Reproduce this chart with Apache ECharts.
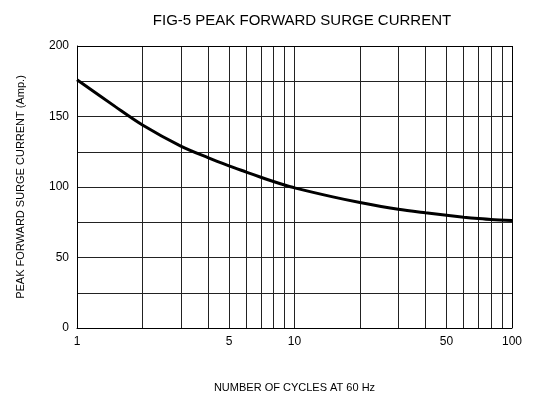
<!DOCTYPE html>
<html><head><meta charset="utf-8">
<script src="https://cdn.jsdelivr.net/npm/echarts@6/dist/echarts.min.js"></script>
<style>html,body{margin:0;padding:0;background:#fff}#c{width:537px;height:410px}</style>
</head><body><div id="c"></div>
<script>
const cycles = [1, 1.5, 2, 3, 4, 5, 6, 7, 8, 9, 10, 15, 20, 30, 40, 50, 60, 70, 80, 100];
const current = [176, 157, 144, 129, 120.8, 115, 110.6, 106.9, 103.9, 101.4, 99.4, 93, 89, 84.2, 81.7, 80, 78.6, 77.6, 76.9, 76.3];
const xGridValues = [1, 2, 3, 4, 5, 6, 7, 8, 9, 10, 20, 30, 40, 50, 60, 70, 80, 90, 100];
const xLabelValues = [1, 5, 10, 50, 100];
const yLabelValues = [0, 50, 100, 150, 200];

const font = 'Liberation Sans, Arial, sans-serif';
const chart = echarts.init(document.getElementById('c'));
chart.setOption({
  animation: false,
  title: {
    text: 'FIG-5 PEAK FORWARD SURGE CURRENT',
    left: 297, top: 8, textAlign: 'center',
    textStyle: {fontFamily: font, fontSize: 15, fontWeight: 'normal', color: '#000'}
  },
  grid: {left: 77, right: 25, top: 46, bottom: 82},
  xAxis: {
    type: 'log', logBase: 10, min: 1, max: 100,
    name: 'NUMBER OF CYCLES AT 60 Hz', nameLocation: 'middle', nameGap: 54,
    nameTextStyle: {fontFamily: font, fontSize: 11, color: '#000'},
    axisLine: {show: true, lineStyle: {color: '#000', width: 1}},
    axisTick: {show: false, customValues: xGridValues},
    axisLabel: {customValues: xLabelValues, fontFamily: font, fontSize: 12, color: '#000', margin: 8},
    splitLine: {show: true, lineStyle: {color: '#222', width: 1}}
  },
  yAxis: {
    type: 'value', min: 0, max: 200, interval: 25,
    name: 'PEAK FORWARD SURGE CURRENT (Amp.)', nameLocation: 'middle', nameGap: 51,
    nameTextStyle: {fontFamily: font, fontSize: 11, color: '#000'},
    axisLine: {show: true, lineStyle: {color: '#000', width: 1}},
    axisTick: {show: false},
    axisLabel: {fontFamily: font, fontSize: 12, color: '#000', margin: 8,
      formatter: v => (yLabelValues.indexOf(v) >= 0 ? String(v) : '')},
    splitLine: {show: true, lineStyle: {color: '#222', width: 1}}
  },
  series: [{
    type: 'line', smooth: 0.3, symbol: 'none',
    lineStyle: {color: '#000', width: 3},
    data: cycles.map((c, i) => [c, current[i]])
  }, {
    type: 'line', data: [], symbol: 'none',
    markLine: {silent: true, symbol: 'none', label: {show: false},
      lineStyle: {color: '#000', width: 1, type: 'solid'},
      data: [{xAxis: 100}, {yAxis: 200}]}
  }]
});
</script></body></html>
